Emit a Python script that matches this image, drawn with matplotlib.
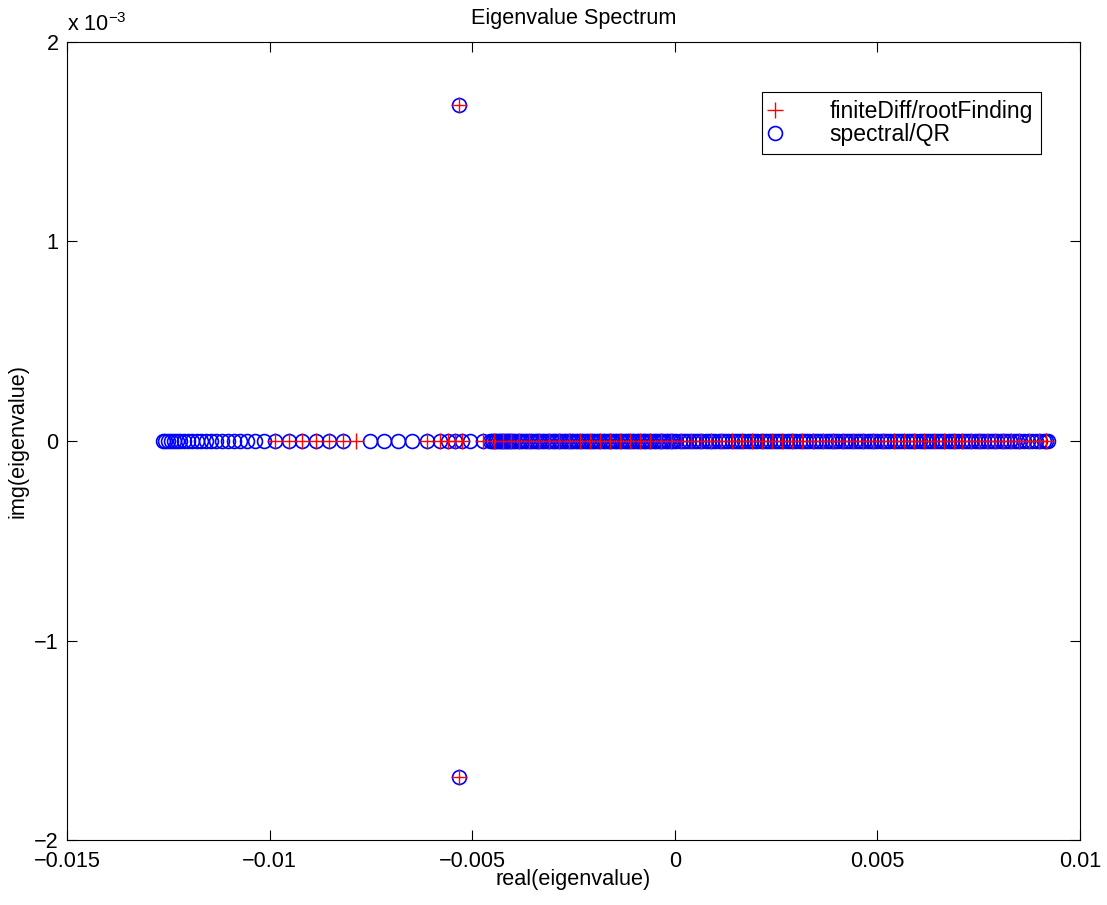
"""
Espectro de autovalores: diferenças finitas + busca de raízes vs. espectral + QR
"""

import numpy as np
import matplotlib.pyplot as plt
from matplotlib.ticker import FuncFormatter

plt.rcParams['font.family'] = ['Liberation Sans', 'DejaVu Sans']

ESCALA = 1e-3  # todos os valores abaixo estão em unidades de 1e-3

# espectral/QR: autovalores reais
QR_REAL = np.array([
    -12.63, -12.57, -12.51, -12.43, -12.36, -12.29, -12.20, -12.11, -12.01,
    -11.92, -11.80, -11.69, -11.57, -11.45, -11.31, -11.18, -11.03, -10.88,
    -10.72, -10.56, -10.36, -10.14, -9.87, -9.52, -9.20, -8.85, -8.53, -8.18,
    -7.52, -7.18, -6.83, -6.48, -6.11, -5.79, -5.60, -5.42, -5.25, -5.05,
    -4.73,
    -4.56, -4.52, -4.48, -4.44, -4.40, -4.36, -4.32, -4.28, -4.24, -4.20,
    -4.16, -4.12, -4.08, -4.04, -4.00,
    -3.94, -3.88, -3.82, -3.76, -3.70, -3.64, -3.58, -3.52, -3.46, -3.40,
    -3.34, -3.28, -3.22, -3.16, -3.10, -3.04, -2.98, -2.92, -2.86, -2.80,
    -2.74, -2.68, -2.62, -2.56, -2.50, -2.44, -2.38, -2.32, -2.26, -2.20,
    -2.14, -2.08, -2.02, -1.96, -1.90, -1.84, -1.78, -1.72, -1.66, -1.60,
    -1.54, -1.48, -1.42, -1.36, -1.30, -1.24, -1.18, -1.12, -1.06, -1.00,
    -0.94, -0.88, -0.82, -0.76, -0.70, -0.64, -0.58, -0.52, -0.46, -0.40,
    -0.34, -0.28, -0.22, -0.16, -0.10, -0.04,
    0.04, 0.12, 0.20, 0.28, 0.36, 0.44, 0.52, 0.60, 0.68, 0.76, 0.84, 0.92,
    1.00, 1.08, 1.16, 1.24, 1.32, 1.40, 1.48, 1.56, 1.64, 1.72, 1.80, 1.88,
    1.96, 2.04, 2.12, 2.20, 2.28, 2.36, 2.44, 2.52, 2.60, 2.68, 2.76, 2.84,
    2.92, 3.00, 3.08, 3.16, 3.24, 3.32, 3.40, 3.48, 3.56, 3.64, 3.72, 3.80,
    3.88, 3.96, 4.04, 4.12, 4.20, 4.28, 4.36, 4.44, 4.52, 4.60, 4.68, 4.76,
    4.84, 4.92, 5.00, 5.08, 5.16, 5.24, 5.32, 5.40, 5.48, 5.56, 5.64, 5.72,
    5.80, 5.88, 5.96, 6.04, 6.12, 6.20, 6.28, 6.36, 6.44, 6.52, 6.60, 6.68,
    6.76, 6.84, 6.92, 7.00, 7.08, 7.16, 7.24, 7.32, 7.40, 7.48, 7.56, 7.64,
    7.72, 7.80, 7.88, 7.96, 8.04, 8.12, 8.20, 8.28, 8.36, 8.44, 8.52,
    8.62, 8.72, 8.82, 8.92, 9.02, 9.10, 9.16, 9.21,
])

# diferenças finitas / busca de raízes: autovalores reais
FD_REAL = np.array([
    -9.87, -9.52, -9.20, -8.85, -8.53, -8.18, -7.87, -6.11, -5.79, -5.60,
    -5.42, -5.25, -4.73, -4.45, -4.25, -4.05, -3.85, -3.60, -3.35, -3.10,
    -2.85, -2.60, -2.35, -2.10, -1.85, -1.60, -1.35, -1.10, -0.85, -0.60,
    -0.35, -0.10, 0.15, 0.40, 0.65, 0.90, 1.15, 1.40, 1.65, 1.90, 2.15,
    2.40, 2.65, 2.90, 3.15, 3.40, 3.65, 3.90, 4.15, 4.40, 4.65, 4.90, 5.15,
    5.40, 5.65, 5.90, 6.15, 6.40, 6.65, 6.90, 7.10, 7.30, 7.50, 7.70, 7.90,
    8.10, 8.30, 8.50, 8.75, 9.00, 9.15,
])

# par complexo conjugado (encontrado pelos dois métodos)
PAR_REAL = np.array([-5.33, -5.33])
PAR_IMAG = np.array([1.684, -1.684])


def main():
    fig = plt.figure(figsize=(11.07, 9.05), dpi=100)
    ax = fig.add_axes([0.0605, 0.0718, 0.9151, 0.8818])

    fd_x = np.concatenate([FD_REAL, PAR_REAL]) * ESCALA
    fd_y = np.concatenate([np.zeros_like(FD_REAL), PAR_IMAG]) * ESCALA
    qr_x = np.concatenate([QR_REAL, PAR_REAL]) * ESCALA
    qr_y = np.concatenate([np.zeros_like(QR_REAL), PAR_IMAG]) * ESCALA

    # cruzes por cima dos círculos para continuarem visíveis na faixa densa
    ax.plot(fd_x, fd_y, '+', color='red', markersize=11,
            markeredgewidth=1.0, label='finiteDiff/rootFinding', zorder=3)
    ax.plot(qr_x, qr_y, 'o', color='blue', markerfacecolor='none',
            markersize=10, markeredgewidth=1.2, label='spectral/QR', zorder=2)

    ax.set_xlim(-0.015, 0.01)
    ax.set_ylim(-2e-3, 2e-3)
    ax.set_xticks([-0.015, -0.01, -0.005, 0, 0.005, 0.01])
    ax.set_yticks([-2e-3, -1e-3, 0, 1e-3, 2e-3])
    ax.xaxis.set_major_formatter(FuncFormatter(
        lambda v, p: ('%g' % v).replace('-', '\u2212')))
    ax.yaxis.set_major_formatter(FuncFormatter(
        lambda v, p: ('%g' % round(v / ESCALA)).replace('-', '\u2212')))
    ax.tick_params(direction='in', top=True, right=True, length=7,
                   width=0.8, labelsize=15.6)
    ax.tick_params(axis='x', pad=8)
    ax.tick_params(axis='y', pad=6)
    for s in ax.spines.values():
        s.set_linewidth(0.8)

    ax.text(0.0, 1.008, 'x 10$^{\\mathregular{-3}}$', transform=ax.transAxes,
            fontsize=15.6, ha='left', va='bottom')

    ax.set_xlabel('real(eigenvalue)', fontsize=15.6, labelpad=-2)
    ax.set_ylabel('img(eigenvalue)', fontsize=15.6, labelpad=4)
    ax.set_title('Eigenvalue Spectrum', fontsize=15.6, pad=13)

    leg = ax.legend(loc='upper right', bbox_to_anchor=(0.9615, 0.937),
                    fontsize=16.5, fancybox=False, framealpha=1,
                    edgecolor='black', borderpad=0.35, handlelength=0.44,
                    handletextpad=2.18, labelspacing=0.0, borderaxespad=0)
    leg.get_frame().set_linewidth(0.8)

    fig.savefig('out.png', dpi=100)


if __name__ == "__main__":
    main()
